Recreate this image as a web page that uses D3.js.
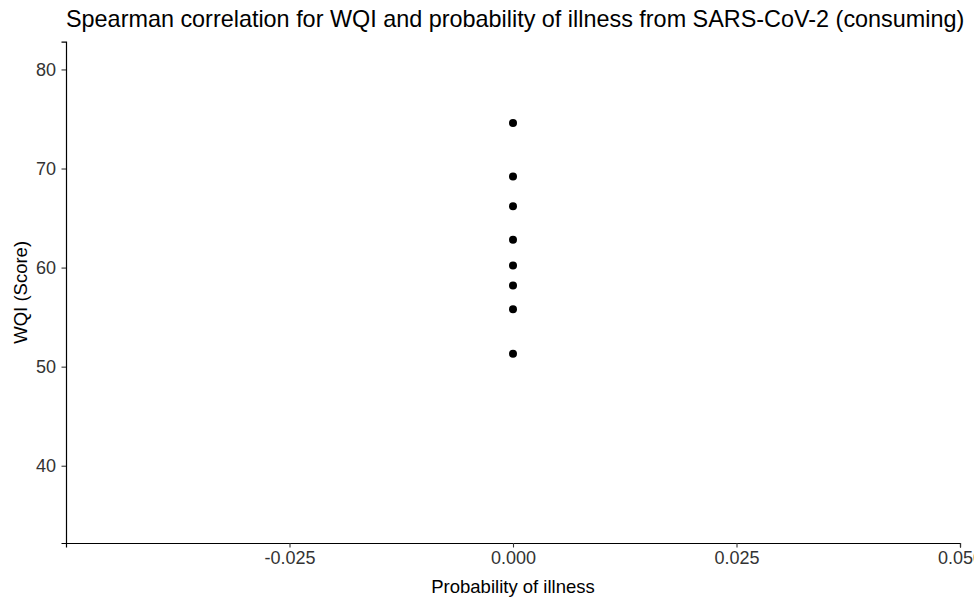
<!DOCTYPE html>
<html>
<head>
<meta charset="utf-8">
<script src="https://cdn.jsdelivr.net/npm/d3@7"></script>
<style>
  html, body { margin: 0; padding: 0; background: #fff; }
  svg { display: block; font-family: "Liberation Sans", Arial, sans-serif; }
</style>
</head>
<body>
<svg id="chart" width="974" height="598"></svg>
<script>
// Observations: probability of illness (x) against WQI score (y)
const probability = [0, 0, 0, 0, 0, 0, 0, 0];
const wqiScore = [74.6, 69.2, 66.2, 62.8, 60.2, 58.2, 55.8, 51.3];

// Axis tick values
const xTicks = [-0.025, 0, 0.025, 0.05];
const yTicks = [40, 50, 60, 70, 80];

const titleText = "Spearman correlation for WQI and probability of illness from SARS-CoV-2 (consuming)";
const xTitle = "Probability of illness";
const yTitle = "WQI (Score)";

const svg = d3.select("#chart");
const panel = { left: 66, right: 960, top: 41.7, bottom: 543 };

const x = d3.scaleLinear().domain([-0.05, 0.05]).range([panel.left, panel.right]);
const y = d3.scaleLinear().domain([32.2, 82.8]).range([panel.bottom, panel.top]);

// plain hyphen for negative numbers
const fmtX = d => d3.format(".3f")(d).replace("\u2212", "-");

// Title, left-aligned with the panel
svg.append("text")
  .attr("x", panel.left)
  .attr("y", 26.5)
  .attr("font-size", 23.4)
  .attr("fill", "#000")
  .text(titleText);

// X axis
const xAxis = svg.append("g")
  .attr("transform", `translate(0,${panel.bottom})`)
  .call(d3.axisBottom(x).tickValues(xTicks).tickFormat(fmtX).tickSizeOuter(0).tickSize(4.5).tickPadding(4));

// Y axis
const yAxis = svg.append("g")
  .attr("transform", `translate(${panel.left},0)`)
  .call(d3.axisLeft(y).tickValues(yTicks).tickFormat(d3.format("d")).tickSizeOuter(0).tickSize(4.5).tickPadding(5.5));

[xAxis, yAxis].forEach(g => {
  g.select(".domain").attr("stroke", "#000").attr("stroke-width", 1.2);
  g.selectAll(".tick line").attr("stroke", "#333").attr("stroke-width", 1.1);
  g.selectAll(".tick text")
    .attr("font-size", 18)
    .attr("fill", "#333")
    .attr("font-family", "Liberation Sans, Arial, sans-serif");
});

// Axis titles
svg.append("text")
  .attr("x", (panel.left + panel.right) / 2)
  .attr("y", 593)
  .attr("text-anchor", "middle")
  .attr("font-size", 18.5)
  .attr("fill", "#000")
  .text(xTitle);

svg.append("text")
  .attr("transform", `translate(27,${(panel.top + panel.bottom) / 2}) rotate(-90)`)
  .attr("text-anchor", "middle")
  .attr("font-size", 18.5)
  .attr("fill", "#000")
  .text(yTitle);

// Points
svg.append("g")
  .selectAll("circle")
  .data(wqiScore.map((v, i) => ({ px: probability[i], wqi: v })))
  .join("circle")
  .attr("cx", d => x(d.px))
  .attr("cy", d => y(d.wqi))
  .attr("r", 4)
  .attr("fill", "#000");
</script>
</body>
</html>
